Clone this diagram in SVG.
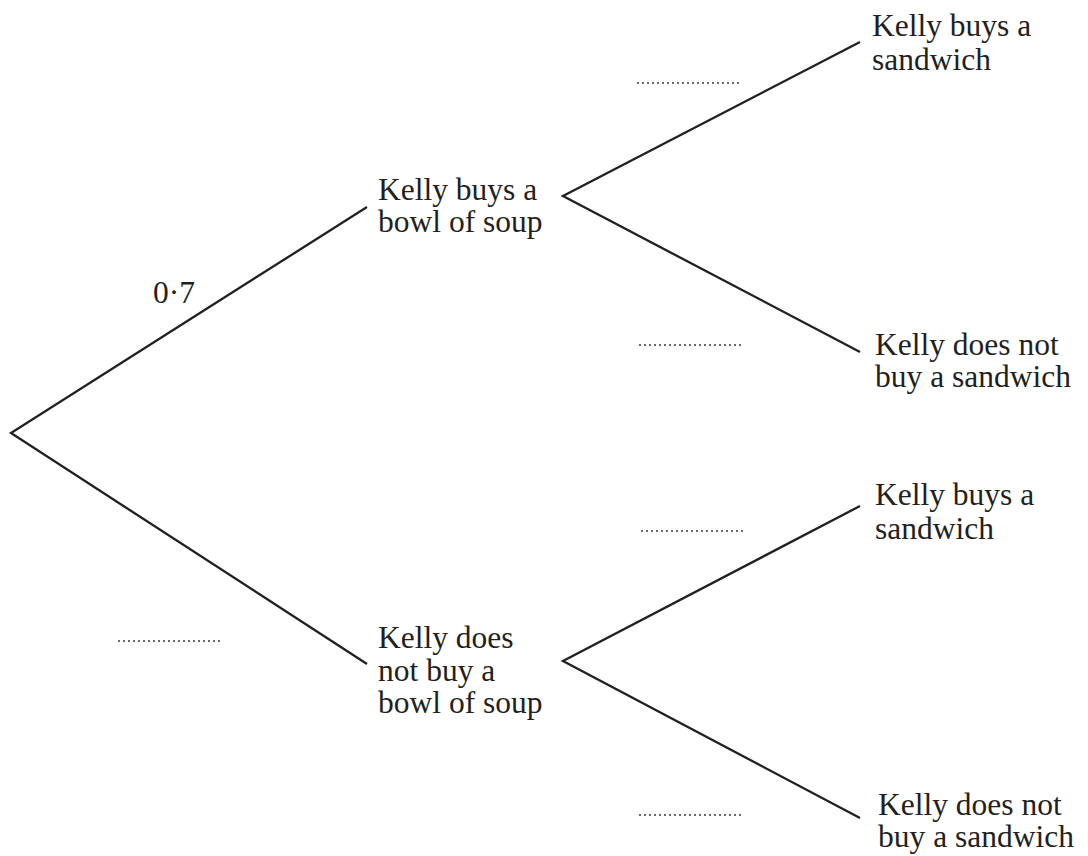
<svg xmlns="http://www.w3.org/2000/svg" width="1088" height="856" viewBox="0 0 1088 856">
<style>
.t{font-family:"Liberation Serif","Times New Roman",serif;font-size:31.5px;fill:#231f20}
.br{stroke:#231f20;stroke-width:2.3;fill:none}
.dot{stroke:#231f20;stroke-width:1.8;stroke-dasharray:0 5;stroke-linecap:round;fill:none}
</style>
<rect width="1088" height="856" fill="#fff"/>
<g id="connectors">
<path class="br" d="M367,207 L11,433 L367,664"/>
<path class="br" d="M860,42 L563,196 L860,352"/>
<path class="br" d="M860,506 L563,661 L860,818"/>
</g>
<g id="root-labels">
<text class="t" x="153" y="303">0·7</text>
<line class="dot" x1="119" y1="641" x2="223" y2="641"/>
</g>
<g id="node-soup">
<text class="t" x="378" y="200">Kelly buys a</text>
<text class="t" x="378" y="232">bowl of soup</text>
</g>
<g id="node-nosoup">
<text class="t" x="378" y="648">Kelly does</text>
<text class="t" x="378" y="681">not buy a</text>
<text class="t" x="378" y="713">bowl of soup</text>
</g>
<g id="node-s1">
<text class="t" x="872" y="36">Kelly buys a</text>
<text class="t" x="872" y="70">sandwich</text>
<line class="dot" x1="638" y1="83" x2="740" y2="83"/>
</g>
<g id="node-ns1">
<text class="t" x="875" y="355">Kelly does not</text>
<text class="t" x="875" y="387">buy a sandwich</text>
<line class="dot" x1="640" y1="345" x2="743" y2="345"/>
</g>
<g id="node-s2">
<text class="t" x="875" y="505">Kelly buys a</text>
<text class="t" x="875" y="539">sandwich</text>
<line class="dot" x1="642" y1="531" x2="745" y2="531"/>
</g>
<g id="node-ns2">
<text class="t" x="878" y="815">Kelly does not</text>
<text class="t" x="878" y="847">buy a sandwich</text>
<line class="dot" x1="640" y1="815" x2="743" y2="815"/>
</g>
</svg>
